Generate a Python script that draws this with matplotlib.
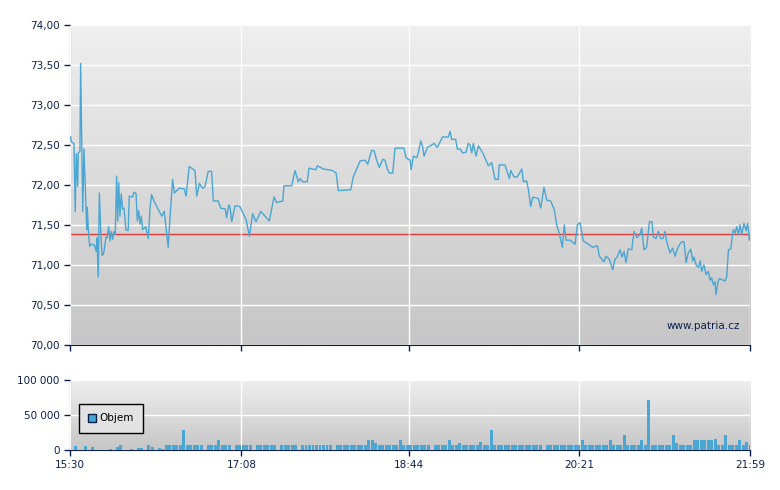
import matplotlib
matplotlib.use("Agg")
import matplotlib.pyplot as plt
import numpy as np
from matplotlib.patches import Patch

# minutes after 15:30
price_t = [0.4, 0.7, 2.3, 3.0, 3.6, 4.4, 4.7, 5.7, 6.1, 7.3, 8.0, 9.2, 9.6, 9.9, 10.5, 11.3,
           12.0, 13.9, 15.0, 15.4, 16.2, 16.8, 17.7, 18.3, 19.0, 19.6, 20.6, 21.3, 22.1, 22.9,
           23.6, 24.4, 25.2, 25.9, 26.7, 27.3, 27.9, 28.6, 29.3, 30.1, 30.9, 32.0, 33.3, 33.9,
           35.9, 36.6, 37.8, 38.5, 39.3, 40.0, 40.8, 41.6, 43.3, 44.8, 45.8, 46.7, 48.0, 49.9,
           52.5, 53.9, 54.7, 56.2, 57.2, 58.7, 59.7, 62.5, 65.4, 66.4, 68.2, 69.6, 71.5, 72.5,
           74.0, 75.9, 77.2, 79.1, 81.0, 82.0, 84.8, 86.2, 88.8, 89.6, 90.8,
           91.5, 92.5, 94.4, 97.2, 99.1, 100.7, 102.6, 104.5, 106.4, 109.1, 114.0, 116.7, 118.2,
           121.7, 122.4, 126.8, 128.7, 130.6, 131.6, 133.1, 135.7, 136.7, 140.7, 141.5, 144.9,
           150.2, 152.2, 153.5, 160.6, 162.0, 164.0, 165.9, 168.7, 170.3, 172.5, 173.9, 175.4,
           176.9, 178.9, 180.2, 181.5, 182.6, 184.6, 185.9, 191.0, 192.2, 194.5, 195.1, 196.4,
           198.3, 199.2, 200.6, 201.7, 202.5, 204.4, 206.9, 208.2, 210.1, 213.1, 216.4, 217.4,
           218.3, 220.6, 221.5, 223.1, 224.6, 226.5, 227.8, 228.8, 229.8, 230.7, 232.2, 233.6,
           236.1, 237.5, 239.3, 241.2, 243.1, 245.0, 245.5, 248.8, 251.3, 252.1, 254.0, 255.8,
           258.4, 259.3, 261.2,
           262.2, 263.5, 264.7, 267.9, 269.2, 271.1, 272.7, 274.9, 277.0, 278.4, 279.9, 281.6,
           282.7, 283.7, 286.0, 288.9, 290.2, 291.7, 293.6, 296.5, 298.9, 301.6, 302.8, 305.4,
           306.6, 308.5, 310.4, 311.7, 313.0, 314.6, 315.7, 316.9, 318.0, 319.3, 321.3, 322.6,
           324.2, 326.0, 327.0, 328.3, 329.8, 331.4, 332.9, 333.6, 335.2, 336.5, 337.9, 339.2,
           340.3, 341.3, 343.2, 344.7, 346.1, 347.2, 348.5, 349.9, 351.2, 352.4, 353.5, 355.0,
           356.2, 356.9, 358.1, 359.4, 360.4, 361.3, 362.6, 363.8, 365.1, 366.1, 367.0, 368.0,
           368.9, 369.5, 370.5, 371.4, 374.7, 375.6, 376.6, 377.9, 378.5, 379.4, 380.4, 381.3,
           382.3, 383.2, 384.2, 385.5, 386.7, 387.6, 388.6, 389.0]
price = [72.60, 72.54, 72.52, 71.67, 72.39, 71.98, 72.40, 72.42, 73.52, 71.67, 72.45, 71.69,
         71.44, 71.72, 71.44, 71.23, 71.26, 71.25, 71.17, 71.34, 70.85, 71.90, 71.39, 71.12,
         71.13, 71.19, 71.35, 71.34, 71.48, 71.30, 71.42, 71.32, 71.42, 71.38, 72.11, 71.55,
         72.03, 71.61, 71.89, 71.70, 71.71, 71.44, 71.43, 71.86, 71.85, 71.91, 71.89, 71.55,
         71.68, 71.51, 71.61, 71.44, 71.48, 71.33, 71.72, 71.88, 71.80, 71.72, 71.61, 71.67,
         71.51, 71.22, 71.59, 72.07, 71.90, 71.96, 71.95, 71.86, 72.23, 72.21, 72.18, 71.86,
         72.02, 71.96, 71.98, 72.17, 72.17, 71.80, 71.80, 71.71, 71.70, 71.59, 71.75,
         71.73, 71.54, 71.74, 71.73, 71.64, 71.57, 71.36, 71.64, 71.54, 71.67, 71.55, 71.85,
         71.78, 71.80, 71.99, 71.99, 72.18, 72.04, 72.08, 72.04, 72.04, 72.21, 72.19, 72.24,
         72.20, 72.18, 72.15, 71.93, 71.94, 72.10, 72.20, 72.30, 72.31, 72.26, 72.43, 72.43,
         72.31, 72.22, 72.32, 72.31, 72.20, 72.15, 72.15, 72.46, 72.46, 72.34, 72.31, 72.19,
         72.36, 72.34, 72.40, 72.55, 72.48, 72.36, 72.47, 72.50, 72.52, 72.47, 72.60, 72.60,
         72.67, 72.57, 72.57, 72.45, 72.45, 72.40, 72.41, 72.52, 72.50, 72.40, 72.52, 72.36,
         72.49, 72.40, 72.33, 72.24, 72.28, 72.07, 72.07, 72.25, 72.25, 72.08, 72.18, 72.10,
         72.10, 72.20, 72.04, 72.05,
         71.94, 71.73, 71.85, 71.83, 71.71, 71.97, 71.81, 71.80, 71.69, 71.50, 71.39, 71.22,
         71.50, 71.31, 71.31, 71.26, 71.50, 71.53, 71.30, 71.26, 71.22, 71.24, 71.11, 71.04,
         71.11, 71.07, 70.94, 71.07, 71.10, 71.19, 71.10, 71.17, 71.03, 71.20, 71.19, 71.42,
         71.34, 71.38, 71.46, 71.19, 71.22, 71.54, 71.54, 71.35, 71.33, 71.42, 71.33, 71.33,
         71.42, 71.29, 71.15, 71.21, 71.11, 71.19, 71.25, 71.29, 71.29, 71.03, 71.14, 71.20,
         71.05, 71.10, 71.00, 70.97, 71.05, 70.92, 71.00, 70.88, 70.92, 70.81, 70.84, 70.75,
         70.79, 70.63, 70.78, 70.83, 70.80, 70.85, 71.19, 71.20, 71.31, 71.44, 71.40, 71.48,
         71.38, 71.50, 71.38, 71.52, 71.43, 71.52, 71.31, 71.36]
prev_close = 71.39

# volume per 2-minute bucket starting 15:30
volume = [
    0, 6000, 0, 0, 6000, 0, 5000, 0, 0, 0,
    0, 2000, 0, 5000, 7000, 0, 0, 2000, 0, 3000,
    3000, 0, 7000, 5000, 0, 3000, 2000, 7000, 7000, 7000,
    7000, 7000, 28000, 7000, 7000, 7000, 7000, 7000, 0, 7000,
    7000, 7000, 14000, 7000, 7000, 7000, 0, 7000, 7000, 7000,
    7000, 7000, 0, 7000, 7000, 7000, 7000, 7000, 7000, 0,
    7000, 7000, 7000, 7000, 7000, 0, 7000, 7000, 7000, 7000,
    7000, 7000, 7000, 7000, 7000, 0, 7000, 7000, 7000, 7000,
    7000, 7000, 7000, 7000, 7000, 14000, 14000, 10000, 7000, 7000,
    7000, 7000, 7000, 7000, 14000, 7000, 7000, 7000, 7000, 7000,
    7000, 7000, 7000, 0, 7000, 7000, 7000, 7000, 14000, 7000,
    7000, 10000, 7000, 7000, 7000, 7000, 7000, 12000, 7000, 7000,
    29000, 7000, 7000, 7000, 7000, 7000, 7000, 7000, 7000, 7000,
    7000, 7000, 7000, 7000, 7000, 0, 7000, 7000, 7000, 7000,
    7000, 7000, 7000, 7000, 7000, 7000, 14000, 7000, 7000, 7000,
    7000, 7000, 7000, 7000, 14000, 7000, 7000, 7000, 22000, 7000,
    7000, 7000, 7000, 14000, 7000, 72000, 7000, 7000, 7000, 7000,
    7000, 7000, 22000, 10000, 7000, 7000, 7000, 7000, 14000, 14000,
    14000, 14000, 14000, 14000, 16000, 7000, 7000, 22000, 7000, 7000,
    7000, 14000, 7000, 12000, 7000,
]
vol_t = np.arange(len(volume)) * 2 + 1

tick_minutes = [0, 98, 194, 291, 389]
tick_labels = ["15:30", "17:08", "18:44", "20:21", "21:59"]
price_ticks = [70.0, 70.5, 71.0, 71.5, 72.0, 72.5, 73.0, 73.5, 74.0]
vol_ticks = [0, 50000, 100000]
vol_labels = ["0", "50 000", "100 000"]

NAVY = "#0b1f4f"
BLUE = "#4aa6d2"

plt.rcParams["font.family"] = "DejaVu Sans"
fig = plt.figure(figsize=(7.8, 4.9), dpi=100)
ax = fig.add_axes([0.0897, 0.296, 0.872, 0.653])
axv = fig.add_axes([0.0897, 0.0816, 0.872, 0.143])

grad = np.linspace(0, 1, 256).reshape(-1, 1)
for a in (ax, axv):
    a.imshow(grad, cmap=matplotlib.colors.LinearSegmentedColormap.from_list(
        "bg", ["#efefef", "#c6c6c6"]), aspect="auto", extent=(0, 1, 0, 1),
        transform=a.transAxes, zorder=0)
    a.set_xlim(0, 389)
    a.set_xticks(tick_minutes)
    a.grid(True, color="white", lw=1, zorder=1)
    a.set_axisbelow(False)
    for s in ("top", "right"):
        a.spines[s].set_visible(False)
    for s in ("left", "bottom"):
        a.spines[s].set_color(NAVY)
    a.tick_params(colors=NAVY, labelsize=7.5, length=4, width=1)

ax.plot(price_t, price, color=BLUE, lw=1, zorder=3)
ax.axhline(prev_close, color="#e03a3a", lw=1, zorder=2)
ax.set_ylim(70, 74)
ax.set_yticks(price_ticks)
ax.set_yticklabels([f"{v:.2f}".replace(".", ",") for v in price_ticks])
ax.set_xticklabels([])
ax.text(0.985, 0.06, "www.patria.cz", transform=ax.transAxes, ha="right",
        va="center", color=NAVY, fontsize=7.5, zorder=4)

axv.bar(vol_t, volume, width=1.7, color=BLUE, zorder=3)
axv.set_ylim(0, 100000)
axv.set_yticks(vol_ticks)
axv.set_yticklabels(vol_labels)
axv.set_xticklabels(tick_labels)
leg = axv.legend(handles=[Patch(facecolor=BLUE, edgecolor=NAVY, label="Objem")],
                 loc="center left", bbox_to_anchor=(0.005, 0.45), fontsize=7.5,
                 fancybox=False, edgecolor="black", facecolor="#e2e2e2", framealpha=1,
                 handlelength=0.8, handleheight=0.8, handletextpad=0.3,
                 borderpad=0.9)
leg.get_frame().set_linewidth(1)
leg.set_zorder(5)

fig.savefig("out.png", dpi=100)
